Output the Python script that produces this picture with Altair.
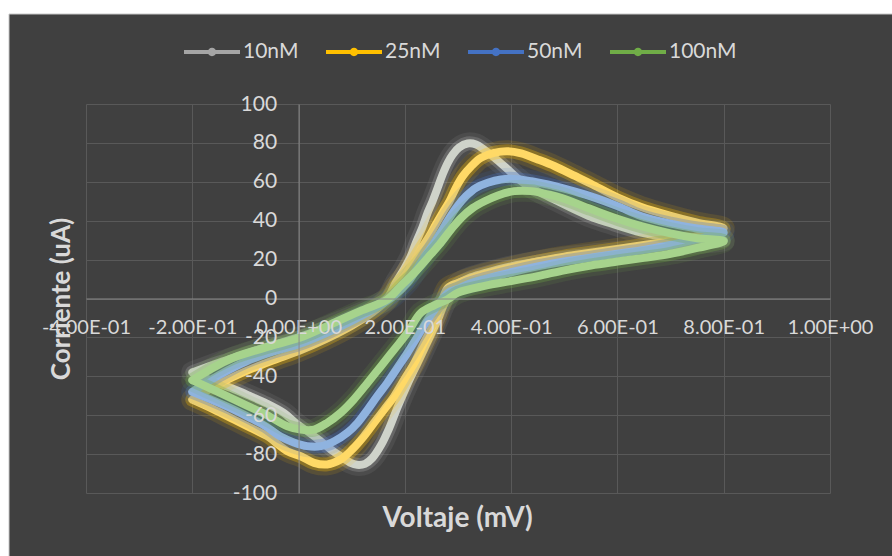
import altair as alt
import pandas as pd

# ---------------- data ----------------
SERIES = ["10nM", "25nM", "50nM", "100nM"]
BASE_COLORS = ["#a5a5a5", "#ffc000", "#4472c4", "#70ad47"]
LIGHT_COLORS = ["#cfd3ca", "#ffd966", "#8fb3df", "#a6d38c"]

# 10nM : forward scan then return scan
V_10 = [-0.20, -0.15, -0.10, -0.05, 0.00, 0.05, 0.10, 0.14, 0.167, 0.183, 0.198, 0.211, 0.221, 0.233,
        0.243, 0.252, 0.262, 0.271, 0.281, 0.290, 0.302, 0.318, 0.334, 0.349, 0.368, 0.394, 0.419,
        0.450, 0.481, 0.519, 0.550, 0.582, 0.645, 0.696, 0.750, 0.800,
        0.75, 0.70, 0.65, 0.60, 0.55, 0.50, 0.45, 0.40, 0.35, 0.32, 0.30, 0.285, 0.272, 0.262, 0.243,
        0.224, 0.205, 0.186, 0.170, 0.155, 0.139, 0.125, 0.110, 0.098, 0.079, 0.060, 0.042, 0.023,
        -0.002, -0.028, -0.060, -0.091, -0.120, -0.153, -0.200]
I_10 = [-38, -33, -28.5, -24, -20, -15, -9.5, -4.5, 0.4, 8.2, 14.9, 21.6, 28.8, 36.5,
        44.2, 49.9, 57.1, 63.8, 69.9, 74.0, 77.6, 79.7, 79.2, 76.6, 72.5, 66.3, 60.3,
        55.2, 50.9, 45.8, 42.0, 39.1, 33.9, 31.4, 30.5, 30.0,
        28.5, 27, 25.5, 24, 22.5, 21, 19, 16.5, 13, 10.5, 7.5, 2.5, -4, -10.8, -22.0,
        -33, -44, -56, -67, -75.5, -82, -85, -85.5, -84.5, -81.1, -77.5, -73.5, -69.5,
        -64.8, -58.8, -54, -50.2, -46.8, -43.4, -38]

# 25nM
V_25 = [-0.20, -0.15, -0.10, -0.05, 0.00, 0.05, 0.10, 0.14, 0.165, 0.183, 0.199, 0.215, 0.230, 0.246,
        0.258, 0.271, 0.284, 0.296, 0.309, 0.325, 0.343, 0.368, 0.394, 0.419, 0.450, 0.482, 0.520,
        0.550, 0.600, 0.645, 0.700, 0.750, 0.800,
        0.75, 0.70, 0.65, 0.60, 0.55, 0.50, 0.45, 0.40, 0.35, 0.32, 0.30, 0.281, 0.270, 0.262, 0.252,
        0.236, 0.218, 0.199, 0.180, 0.161, 0.142, 0.123, 0.101, 0.079, 0.054, 0.029, 0.004, -0.021,
        -0.059, -0.090, -0.122, -0.160, -0.200]
I_25 = [-52, -44, -37.5, -32, -27, -21, -14, -7, -1, 6.3, 11.5, 18.4, 25.2, 32.0,
        38.0, 44.1, 50.0, 56.9, 62.9, 68.0, 72.3, 74.9, 75.7, 74.6, 71.5, 68.0, 63,
        59, 52, 47, 42.5, 39, 36,
        32, 29.5, 27.5, 25.5, 23.5, 21.5, 19, 16, 12.5, 10, 8, 5.5, -1, -7.4, -14.2,
        -22.8, -33.1, -41.6, -50.2, -57.1, -63.9, -70.8, -77.6, -82.8, -85.3, -84.5, -81.1, -78.5,
        -70.8, -66.5, -62.2, -57, -52]

# 50nM
V_50 = [-0.20, -0.15, -0.10, -0.05, 0.00, 0.05, 0.10, 0.15, 0.18, 0.205, 0.224, 0.240, 0.255, 0.271,
        0.284, 0.299, 0.315, 0.334, 0.356, 0.381, 0.406, 0.438, 0.469, 0.500, 0.550, 0.600, 0.645,
        0.700, 0.750, 0.800,
        0.75, 0.70, 0.65, 0.60, 0.55, 0.50, 0.45, 0.40, 0.35, 0.32, 0.30, 0.281, 0.262, 0.243, 0.224,
        0.205, 0.186, 0.167, 0.148, 0.130, 0.111, 0.092, 0.067, 0.042, 0.016, -0.009, -0.034,
        -0.060, -0.090, -0.122, -0.160, -0.200]
I_50 = [-48, -39.5, -32.5, -27.5, -23.5, -18, -11.5, -4, 1.5, 8.1, 15.8, 22.6, 28.6, 35.5,
        41.5, 47.5, 52.6, 56.9, 59.5, 61.2, 61.5, 60.3, 58.6, 56.5, 52.5, 47.5, 42.3,
        38.5, 36, 34,
        30.5, 27.5, 25, 23, 21, 19, 16.5, 13.5, 10, 7.5, 5, 2.9, -3.5, -10.8, -19.4,
        -27.9, -35.6, -43.3, -50.2, -57.1, -63.9, -69.0, -73.4, -75.9, -75.9, -74, -71,
        -66, -61.5, -57.1, -52.5, -48]

# 100nM
V_100 = [-0.20, -0.15, -0.116, -0.053, 0.010, 0.073, 0.120, 0.167, 0.192, 0.218, 0.243, 0.265, 0.287,
         0.306, 0.328, 0.350, 0.375, 0.406, 0.438, 0.469, 0.494, 0.550, 0.600, 0.645, 0.700, 0.750,
         0.800,
         0.75, 0.70, 0.65, 0.60, 0.55, 0.50, 0.45, 0.40, 0.35, 0.30, 0.280, 0.255, 0.230, 0.205, 0.180,
         0.155, 0.130, 0.104, 0.079, 0.054, 0.029, 0.004, -0.021, -0.059, -0.090, -0.122, -0.160,
         -0.200]
I_100 = [-42, -34, -29.7, -24.5, -19.4, -11.7, -6, -0.5, 6.3, 13.2, 20.9, 27.8, 35.5,
         41.5, 46.6, 50.0, 53.0, 55.2, 55.2, 53.5, 51.8, 46, 41, 37.2, 33.5, 31,
         29.5,
         26, 23, 20.9, 19, 17, 14.5, 11.5, 9, 6.5, 3, -0.5, -3.5, -7.4, -17.6, -26.2,
         -34.8, -43.3, -51.9, -58.8, -63.9, -67.4, -67.4, -65.7, -60, -56, -51.9, -47,
         -42]

X_TICKS = [-0.4, -0.2, 0.0, 0.2, 0.4, 0.6, 0.8, 1.0]
X_LABELS = ["-4.00E-01", "-2.00E-01", "0.00E+00", "2.00E-01",
            "4.00E-01", "6.00E-01", "8.00E-01", "1.00E+00"]
Y_TICKS = [-100, -80, -60, -40, -20, 0, 20, 40, 60, 80, 100]

X_TITLE = "Voltaje (mV)"
Y_TITLE = "Corriente (uA)"

# ---------------- build table ----------------
rows = []
for name, vs, cs in zip(SERIES, [V_10, V_25, V_50, V_100], [I_10, I_25, I_50, I_100]):
    for k, (v, c) in enumerate(zip(vs, cs)):
        rows.append({"series": name, "k": k, "v": v, "i": c})
df = pd.DataFrame(rows)

# ---------------- layout ----------------
W, H = 744, 389
PAD = {"left": 86, "top": 104, "right": 62, "bottom": 63}
XMIN, XMAX = -0.4, 1.0
Y_AXIS_OFFSET = -W * (0 - XMIN) / (XMAX - XMIN)   # y axis crosses at x = 0
X_AXIS_OFFSET = -H / 2                            # x axis crosses at y = 0

TEXT = "#d9d9d9"
FONT = "Lato"

x_scale = alt.Scale(domain=[XMIN, XMAX], nice=False, zero=False)
y_scale = alt.Scale(domain=[-100, 100], nice=False, zero=False)

x_label_expr = " : ".join(
    f"abs(datum.value - ({t})) < 0.01 ? '{l}'" for t, l in zip(X_TICKS, X_LABELS)
) + " : ''"
y_label_expr = "'' + datum.value"

x_grid_axis = alt.Axis(values=X_TICKS, grid=True, gridColor="#595959", gridWidth=1,
                       labels=False, ticks=False, domain=False, title=None,
                       orient="bottom", zindex=0)
y_grid_axis = alt.Axis(values=Y_TICKS, grid=True, gridColor="#595959", gridWidth=1,
                       labels=False, ticks=False, domain=False, title=None,
                       orient="left", zindex=0)

x_label_axis = alt.Axis(values=X_TICKS, grid=False, ticks=False, labelExpr=x_label_expr,
                        labelFont=FONT, labelFontSize=20, labelColor=TEXT, labelPadding=19,
                        labelFlush=False, labelOverlap=False, labelBound=False,
                        domainColor="#8a8a8a", domainWidth=1, offset=X_AXIS_OFFSET,
                        orient="bottom", zindex=1,
                        title=X_TITLE, titleFont=FONT, titleFontSize=28, titleFontWeight="bold",
                        titleColor=TEXT, titleX=W / 2 - 1, titleY=H / 2 + 25,
                        titleBaseline="middle", titleAlign="center")
y_label_axis = alt.Axis(values=Y_TICKS, grid=False, ticks=False, labelExpr=y_label_expr,
                        labelFont=FONT, labelFontSize=21, labelColor=TEXT, labelPadding=22,
                        labelOverlap=False, labelFlush=False, labelBound=False,
                        domainColor="#8a8a8a", domainWidth=1, offset=Y_AXIS_OFFSET,
                        orient="left", zindex=1,
                        title=Y_TITLE, titleFont=FONT, titleFontSize=26, titleFontWeight="bold",
                        titleColor=TEXT, titleX=-24 + Y_AXIS_OFFSET, titleY=H / 2,
                        titleBaseline="middle", titleAlign="center", titleAngle=-90)

base = alt.Chart(df)

layers = []
first = True
for name, bc, lc in zip(SERIES, BASE_COLORS, LIGHT_COLORS):
    sub = base.transform_filter(alt.datum.series == name)
    enc_axis_x = x_grid_axis if first else None
    enc_axis_y = y_grid_axis if first else None
    glow_outer = sub.mark_line(color=bc, strokeWidth=22, opacity=0.12, interpolate="catmull-rom",
                               strokeCap="round", strokeJoin="round").encode(
        x=alt.X("v:Q", scale=x_scale, axis=enc_axis_x),
        y=alt.Y("i:Q", scale=y_scale, axis=enc_axis_y),
        order="k:Q")
    glow_inner = sub.mark_line(color=bc, strokeWidth=14, opacity=0.3, interpolate="catmull-rom",
                               strokeCap="round", strokeJoin="round").encode(
        x=alt.X("v:Q", scale=x_scale, axis=None),
        y=alt.Y("i:Q", scale=y_scale, axis=None),
        order="k:Q")
    band = sub.mark_line(color=lc, strokeWidth=8, opacity=1, interpolate="catmull-rom",
                         strokeCap="round", strokeJoin="round").encode(
        x=alt.X("v:Q", scale=x_scale, axis=None),
        y=alt.Y("i:Q", scale=y_scale, axis=None),
        order="k:Q")
    layers += [glow_outer, glow_inner, band]
    first = False

legend_path = ("M-1,-0.07L1,-0.07L1,0.07L-1,0.07Z"
               "M0.15,0A0.15,0.15,0,1,1,-0.15,0A0.15,0.15,0,1,1,0.15,0Z")

legend_layer = base.mark_circle(opacity=0).encode(
    x=alt.X("v:Q", scale=x_scale, axis=x_label_axis),
    y=alt.Y("i:Q", scale=y_scale, axis=y_label_axis),
    color=alt.Color("series:N", scale=alt.Scale(domain=SERIES, range=BASE_COLORS),
                    legend=alt.Legend(orient="none", legendX=98, legendY=-80,
                                      direction="horizontal", title=None,
                                      symbolType=legend_path, symbolSize=3136,
                                      symbolStrokeWidth=0, symbolOpacity=1,
                                      labelFont=FONT, labelFontSize=21, labelColor=TEXT,
                                      labelOffset=3, columnPadding=27, padding=0)),
)
layers.append(legend_layer)

# white page margin at top / left of the dark chart area
one = alt.Data(values=[{}])
strip_left = alt.Chart(one).mark_rect(color="white").encode(
    x=alt.value(-PAD["left"]), x2=alt.value(-PAD["left"] + 9),
    y=alt.value(-PAD["top"]), y2=alt.value(H + PAD["bottom"]))
strip_top = alt.Chart(one).mark_rect(color="white").encode(
    x=alt.value(-PAD["left"]), x2=alt.value(W + PAD["right"]),
    y=alt.value(-PAD["top"]), y2=alt.value(-PAD["top"] + 14))
frame = alt.Chart(one).mark_rect(filled=False, stroke="#c8c8c8", strokeWidth=1).encode(
    x=alt.value(-PAD["left"] + 9), x2=alt.value(W + PAD["right"] + 5),
    y=alt.value(-PAD["top"] + 14), y2=alt.value(H + PAD["bottom"] + 5))
layers += [strip_left, strip_top, frame]

chart = alt.layer(*layers).resolve_axis(x="independent", y="independent").properties(
    width=W, height=H,
    background="#404040",
    padding=PAD,
    autosize=alt.AutoSizeParams(type="none"),
).configure_view(stroke=None)

chart.save("out.html", embed_options={"renderer": "svg", "actions": False})
